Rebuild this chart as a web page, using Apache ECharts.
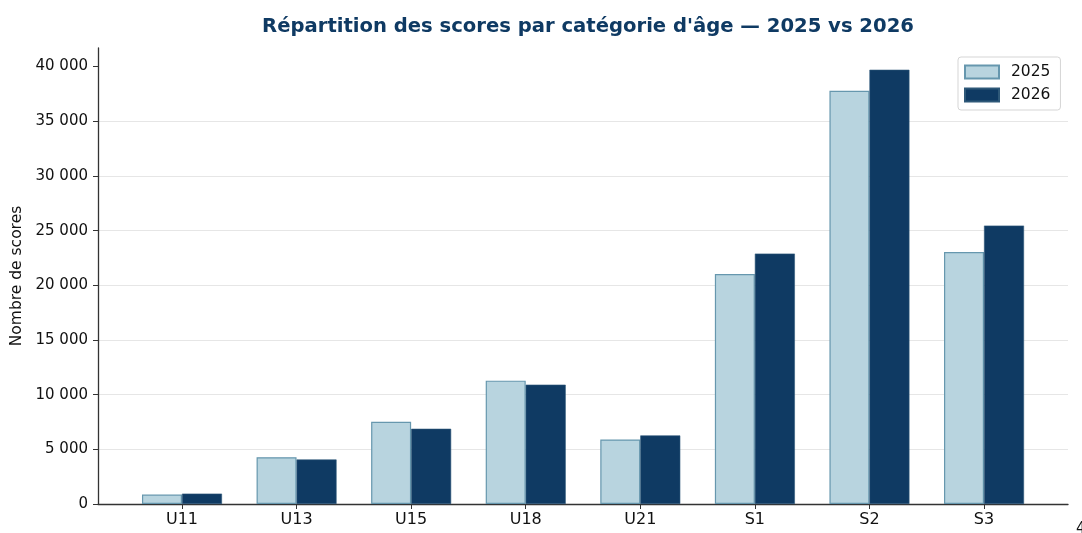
<!DOCTYPE html>
<html>
<head>
<meta charset="utf-8">
<script src="https://cdn.jsdelivr.net/npm/echarts@6/dist/echarts.min.js"></script>
<style>
  html, body { margin: 0; padding: 0; background: #fff; }
  #chart { width: 1082px; height: 533px; }
</style>
</head>
<body>
<div id="chart"></div>
<script>
const categories = ['U11', 'U13', 'U15', 'U18', 'U21', 'S1', 'S2', 'S3']
const scores2025 = [860, 4280, 7520, 11280, 5900, 21030, 37790, 23050]
const scores2026 = [950, 4070, 6880, 10910, 6270, 22900, 39710, 25460]
const yTicks = [0, 5000, 10000, 15000, 20000, 25000, 30000, 35000, 40000]
const xTicks = categories.map((c, i) => i)

const fontFamily = 'DejaVu Sans'
const navy = '#0f3a63'

// séparateur de milliers avec espace
const fmt = v => String(v).replace(/\B(?=(\d{3})+(?!\d))/g, ' ')

const myChart = echarts.init(document.getElementById('chart'))
const option = {
  animation: false,
  textStyle: { fontFamily },
  title: {
    text: "Répartition des scores par catégorie d'âge — 2025 vs 2026",
    left: 583,
    textAlign: 'center',
    top: 12,
    textStyle: { fontFamily, fontSize: 19.6, fontWeight: 'bold', color: navy }
  },
  legend: {
    orient: 'vertical',
    left: 958,
    top: 57,
    itemWidth: 34,
    itemHeight: 13,
    itemGap: 7,
    padding: [7, 10, 7, 6],
    borderColor: '#d5d5d5',
    borderWidth: 1,
    borderRadius: 3,
    icon: 'rect',
    textStyle: { fontFamily, fontSize: 15.5, color: '#111', padding: [0, 0, 0, 7] },
    data: ['2025', '2026']
  },
  grid: { left: 98, right: 14, top: 48, bottom: 29, containLabel: false },
  xAxis: {
    type: 'value',
    min: -0.733,
    max: 7.733,
    splitLine: { show: false },
    axisLine: { show: true, onZero: false, lineStyle: { color: '#333', width: 1.3 } },
    axisTick: { show: true, length: 5, customValues: xTicks, lineStyle: { color: '#333' } },
    axisLabel: {
      customValues: xTicks,
      margin: 8,
      fontSize: 16,
      color: '#111',
      formatter: v => categories[Math.round(v)]
    }
  },
  yAxis: {
    type: 'value',
    min: 0,
    max: 41700,
    interval: 5000,
    name: 'Nombre de scores',
    nameLocation: 'middle',
    nameGap: 73,
    nameTextStyle: { fontFamily, fontSize: 15.5, color: '#111' },
    axisLine: { show: true, onZero: false, lineStyle: { color: '#333', width: 1.3 } },
    axisTick: { show: true, length: 5, customValues: yTicks, lineStyle: { color: '#333' } },
    axisLabel: {
      customValues: yTicks,
      margin: 10,
      fontSize: 15,
      color: '#111',
      formatter: fmt
    },
    splitLine: { show: true, showMaxLine: false, lineStyle: { color: '#e6e6e6', width: 1 } }
  },
  series: [
    {
      name: '2025',
      type: 'bar',
      data: scores2025.map((v, i) => [i, v]),
      barWidth: 40,
      barGap: 0,
      itemStyle: { color: '#b8d4df', borderColor: '#6697ae', borderWidth: 1.2 }
    },
    {
      name: '2026',
      type: 'bar',
      data: scores2026.map((v, i) => [i, v]),
      barWidth: 40,
      barGap: 0,
      itemStyle: { color: navy, borderColor: '#2e5878', borderWidth: 0.6 }
    }
  ],
  graphic: [
    {
      type: 'text',
      left: 1076,
      top: 522,
      style: { text: '4', fontFamily, fontSize: 15, fill: '#111' }
    }
  ]
}
myChart.setOption(option)
</script>
</body>
</html>
